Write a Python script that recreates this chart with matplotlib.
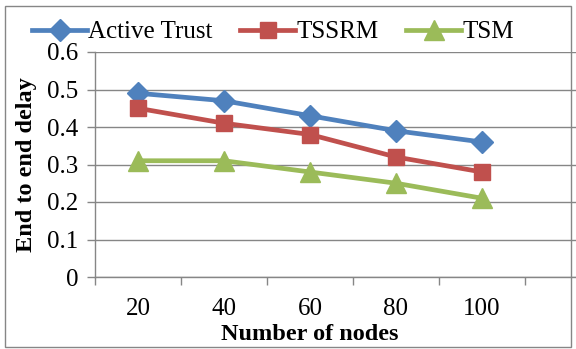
import matplotlib.pyplot as plt
from matplotlib.patches import Rectangle

nodes = ['20', '40', '60', '80', '100']
active_trust = [0.49, 0.47, 0.43, 0.39, 0.36]
tssrm = [0.45, 0.41, 0.38, 0.32, 0.28]
tsm = [0.31, 0.31, 0.28, 0.25, 0.21]

plt.rcParams['font.family'] = ['Liberation Serif', 'DejaVu Serif']

fig = plt.figure(figsize=(5.76, 3.49), dpi=100)
ax = fig.add_axes([95 / 576, 1 - 277 / 349, (576 - 95) / 576, (277 - 52) / 349])

x = range(1, len(nodes) + 1)
ax.plot(x, active_trust, color='#4F81BD', lw=3.4, marker='D', ms=11.5, label='Active Trust')
ax.plot(x, tssrm, color='#C0504D', lw=3.4, marker='s', ms=12, label='TSSRM')
ax.plot(x, tsm, color='#9BBB59', lw=3.4, marker='^', ms=14, label='TSM')

ax.set_ylim(0, 0.6)
ax.set_yticks([0, 0.1, 0.2, 0.3, 0.4, 0.5, 0.6])
ax.set_yticklabels(['0', '0.1', '0.2', '0.3', '0.4', '0.5', '0.6'])
ax.set_xlim(0.5, 0.5 + 481 / 86)
ax.set_xticks(x)
ax.set_xticklabels(nodes)
ax.set_xticks([0.5 + i for i in range(6)], minor=True)
ax.tick_params(axis='x', which='major', length=0, pad=15, labelsize=18)
ax.tick_params(axis='x', which='minor', length=6, color='#868686', width=1)
ax.tick_params(axis='y', length=6, color='#868686', width=1, labelsize=18, pad=6)

ax.grid(axis='y', color='#868686', lw=1)
ax.set_axisbelow(True)
for s in ['top', 'right']:
    ax.spines[s].set_visible(False)
for s in ['left', 'bottom']:
    ax.spines[s].set_color('#868686')
    ax.spines[s].set_linewidth(1)

ax.set_ylabel('End to end delay', fontsize=17.5, fontweight='bold', labelpad=7)
fig.text(310 / 576, 1 - 334 / 349, 'Number of nodes', fontsize=17.5, fontweight='bold',
         ha='center', va='center')

fig.legend(loc='center', bbox_to_anchor=(273 / 576, 1 - 32 / 349), ncol=3, frameon=False,
           fontsize=18, handlelength=2.2, handletextpad=0.05, columnspacing=1.1,
           borderaxespad=0, borderpad=0)

fig.patches.append(Rectangle((5 / 576, 1 - 347 / 349), 566 / 576, 341 / 349,
                             transform=fig.transFigure, fill=False,
                             edgecolor='#868686', lw=1))

fig.savefig('out.png', dpi=100)
